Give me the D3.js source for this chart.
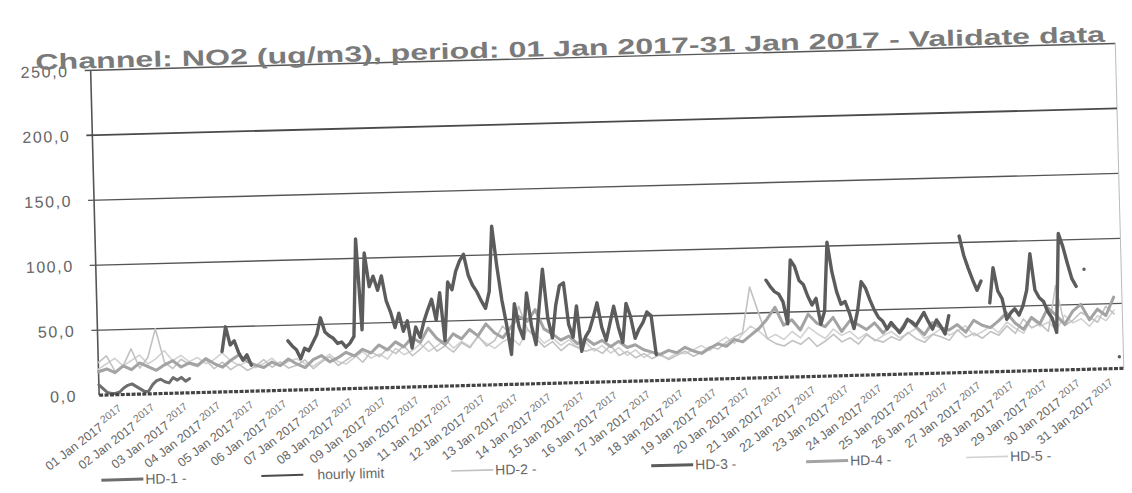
<!DOCTYPE html>
<html>
<head>
<meta charset="utf-8">
<style>
  body { margin: 0; background: #fff; }
  text { font-family: "Liberation Sans", Arial, sans-serif; }
</style>
</head>
<body>
<div id="chart"></div>
<script src="https://cdnjs.cloudflare.com/ajax/libs/d3/7.8.5/d3.min.js"></script>
<script>
// NO2 hourly values, Jan 2017. hd1/hd3 every 3 h, the others every 6 h.
var hd1 = [8,5,2,1,1,2,5,7,8,6,4,2,2,7,10,11,9,8,12,10,12,9,11];

var hd3 = [
  null,null,null,null,null,null,null,null,null,null,null,null,null,null,null,
  null,null,null,null,null,null,null,null,null,null,null,null,null,null,null,
  31,50,36,39,30,24,28,20,
  null,null,null,null,null,null,null,null,
  38,34,31,24,32,30,36,42,55,44,41,39,35,36,32,35,40,115,
  45,104,78,86,75,86,67,58,46,57,43,51,30,46,38,50,59,67,51,72,35,80,74,88,
  96,101,85,77,72,65,59,72,122,91,65,46,23,62,44,35,70,45,30,60,88,50,35,60,
  75,77,45,35,59,24,35,40,50,61,42,32,45,58,42,30,60,50,33,40,45,53,50,20,
  null,null,null,null,null,null,null,null,null,null,null,null,null,
  null,null,null,null,null,null,null,null,null,null,null,null,null,
  75,70,66,64,58,41,90,85,74,71,62,55,60,40,50,103,80,65,55,57,48,36,50,72,
  67,58,50,44,41,35,40,36,32,36,42,40,37,42,47,40,34,41,36,30,44,
  null,null,
  105,90,80,71,63,70,
  null,
  53,80,62,56,40,45,48,43,50,62,90,62,56,53,45,40,29,105,95,82,70,64,
  null,77,
  null,null,null,null,null,null,null,
  9
];

var hd2 = [
  25,30,18,22,35,20,28,50,24,19,26,22,
  20,25,18,23,17,21,16,19,24,18,22,17,
  19,23,16,21,25,18,22,26,20,28,24,30,
  26,32,24,29,35,27,31,26,33,29,38,30,
  34,45,38,60,42,35,28,32,25,30,27,24,
  26,22,28,20,23,18,21,17,20,16,19,22,
  18,21,25,23,28,32,35,70,50,30,26,24,
  28,25,30,23,27,32,26,29,24,31,27,25,
  29,26,32,27,24,30,28,25,33,27,30,26,
  31,28,35,29,40,33,36,30,65,34,38,44,
  40,36,48,42
];

var hd4 = [
  18,20,17,22,19,24,21,18,22,25,20,23,
  21,26,22,19,24,28,23,20,18,22,19,24,
  20,17,23,26,21,24,28,25,30,27,33,29,
  35,31,38,34,45,37,32,40,36,43,38,47,
  40,36,44,52,48,57,42,38,33,36,30,34,
  29,32,27,31,26,28,24,22,20,23,21,25,
  22,20,24,27,25,30,28,33,38,45,54,40,
  44,36,48,41,38,45,34,42,39,35,40,32,
  38,33,42,36,30,39,35,33,37,31,40,36,
  34,39,45,37,32,41,36,48,42,35,45,50,
  38,46,41,55
];

var hd5 = [
  20,24,28,22,26,30,23,27,33,25,29,24,
  27,22,25,30,24,20,23,18,21,25,19,22,
  24,20,18,22,27,21,19,24,28,23,26,22,
  30,25,28,33,27,31,36,29,34,30,37,32,
  28,33,36,30,42,38,31,35,29,33,27,31,
  24,28,22,26,20,24,18,22,19,17,21,20,
  23,26,22,28,32,27,34,40,36,30,33,29,
  35,30,38,33,29,36,31,34,28,32,26,30,
  33,28,31,35,27,30,34,29,32,36,28,31,
  35,30,38,33,29,40,34,37,31,42,36,39,
  33,41,37,45
];

var hourlyLimit = 200;
var yTicks = [0, 50, 100, 150, 200, 250];
var dayLabels = [
  "01 Jan 2017","02 Jan 2017","03 Jan 2017","04 Jan 2017","05 Jan 2017","06 Jan 2017",
  "07 Jan 2017","08 Jan 2017","09 Jan 2017","10 Jan 2017","11 Jan 2017","12 Jan 2017",
  "13 Jan 2017","14 Jan 2017","15 Jan 2017","16 Jan 2017","17 Jan 2017","18 Jan 2017",
  "19 Jan 2017","20 Jan 2017","21 Jan 2017","22 Jan 2017","23 Jan 2017","24 Jan 2017",
  "25 Jan 2017","26 Jan 2017","27 Jan 2017","28 Jan 2017","29 Jan 2017","30 Jan 2017",
  "31 Jan 2017"
];
var legendNames = ["HD-1 -", "hourly limit", "HD-2 -", "HD-3 -", "HD-4 -", "HD-5 -"];
var titleText = "Channel: NO2 (ug/m3), period: 01 Jan 2017-31 Jan 2017 - Validate data";

var W = 1132, H = 493,
    plotLeft = 95, plotRight = 1120, plotTop = 57, plotBottom = 382;

var svg = d3.select('#chart').append('svg')
  .attr('width', W)
  .attr('height', H);

// the scan is a bit crooked, so the whole chart is turned slightly
var g = svg.append('g').attr('transform', 'rotate(-1.5,600,230)');

var x = d3.scaleLinear().domain([0, 31]).range([plotLeft, plotRight]);
var y = d3.scaleLinear().domain([0, 250]).range([plotBottom, plotTop]);

// grid + y axis labels
g.selectAll('.grid')
  .data(yTicks.filter(function(d){ return d > 0 && d != hourlyLimit; }))
  .enter().append('line')
  .attr('x1', plotLeft - 6).attr('x2', plotRight)
  .attr('y1', function(d){ return y(d); })
  .attr('y2', function(d){ return y(d); })
  .attr('stroke', '#555')
  .attr('stroke-width', 1.4);

g.selectAll('.ylab')
  .data(yTicks)
  .enter().append('text')
  .attr('x', plotLeft - 22)
  .attr('y', function(d){ return y(d) + 6; })
  .attr('text-anchor', 'end')
  .attr('font-size', 16)
  .attr('letter-spacing', 1.6)
  .attr('fill', '#666')
  .text(function(d){ return d3.format('.1f')(d).replace('.', ','); });

// frame
g.append('line')
  .attr('x1', plotRight).attr('x2', plotRight)
  .attr('y1', plotTop).attr('y2', plotBottom)
  .attr('stroke', '#bbb').attr('stroke-width', 1);
g.append('line')
  .attr('x1', plotLeft).attr('x2', plotLeft)
  .attr('y1', plotTop).attr('y2', plotBottom)
  .attr('stroke', '#555').attr('stroke-width', 1.6);

// series
function lineFor(step) {
  return d3.line()
    .defined(function(d){ return d != null; })
    .x(function(d, i){ return x(i * step); })
    .y(function(d){ return y(d); });
}

var series = [
  { data: hd5, step: 0.25, color: '#d2d2d2', width: 1.6 },
  { data: hd2, step: 0.25, color: '#c2c2c2', width: 1.6 },
  { data: hd4, step: 0.25, color: '#a3a3a3', width: 3 },
  { data: hd1, step: 0.125, color: '#6e6e6e', width: 3 },
  { data: hd3, step: 0.125, color: '#5c5c5c', width: 3.4 }
];

series.forEach(function(s){
  g.append('path')
    .datum(s.data)
    .attr('fill', 'none')
    .attr('stroke', s.color)
    .attr('stroke-width', s.width)
    .attr('stroke-linejoin', 'round')
    .attr('stroke-linecap', 'round')
    .attr('d', lineFor(s.step));
});

// hourly limit
g.append('line')
  .attr('x1', plotLeft - 6).attr('x2', plotRight)
  .attr('y1', y(hourlyLimit)).attr('y2', y(hourlyLimit))
  .attr('stroke', '#4a4a4a').attr('stroke-width', 1.8);

// bottom axis, dense hourly ticks look like a dashed bar
g.append('line')
  .attr('x1', plotLeft).attr('x2', plotRight)
  .attr('y1', plotBottom).attr('y2', plotBottom)
  .attr('stroke', '#444').attr('stroke-width', 3.2)
  .attr('stroke-dasharray', '4,1.4');

// x labels
g.selectAll('.xlab')
  .data(dayLabels)
  .enter().append('text')
  .attr('text-anchor', 'end')
  .attr('font-size', 12.5)
  .attr('fill', '#666')
  .attr('transform', function(d, i){
    return 'translate(' + (x(i) + 4) + ',' + (plotBottom + 34) + ') rotate(-36)';
  })
  .text(function(d){ return d; });

g.selectAll('.xlab2')
  .data(dayLabels)
  .enter().append('text')
  .attr('text-anchor', 'end')
  .attr('font-size', 10.5)
  .attr('fill', '#777')
  .attr('transform', function(d, i){
    return 'translate(' + (x(i + 0.5) + 6) + ',' + (plotBottom + 15) + ') rotate(-36)';
  })
  .text('2017');

// title
g.append('text')
  .attr('x', 40)
  .attr('y', 55)
  .attr('font-family', '"DejaVu Sans", Verdana, sans-serif')
  .attr('font-weight', 'bold')
  .attr('font-size', 22)
  .attr('fill', '#7a7a7a')
  .attr('textLength', 1070)
  .attr('lengthAdjust', 'spacingAndGlyphs')
  .text(titleText);

// legend
var legendX = [95, 255, 445, 645, 800, 960];
var legendStyle = [
  { color: '#6e6e6e', width: 3 },
  { color: '#4a4a4a', width: 2 },
  { color: '#c2c2c2', width: 1.6 },
  { color: '#5c5c5c', width: 3 },
  { color: '#a3a3a3', width: 3 },
  { color: '#d2d2d2', width: 1.6 }
];

var lg = g.selectAll('.legend')
  .data(legendNames)
  .enter().append('g')
  .attr('transform', function(d, i){ return 'translate(' + legendX[i] + ',467)'; });

lg.append('line')
  .attr('x1', 0).attr('x2', 42)
  .attr('y1', 0).attr('y2', 0)
  .attr('stroke', function(d, i){ return legendStyle[i].color; })
  .attr('stroke-width', function(d, i){ return legendStyle[i].width; });

lg.append('text')
  .attr('x', function(d, i){ return i == 1 ? 56 : 44; })
  .attr('y', 5)
  .attr('font-size', 14)
  .attr('fill', '#666')
  .text(function(d){ return d; });
</script>
</body>
</html>
